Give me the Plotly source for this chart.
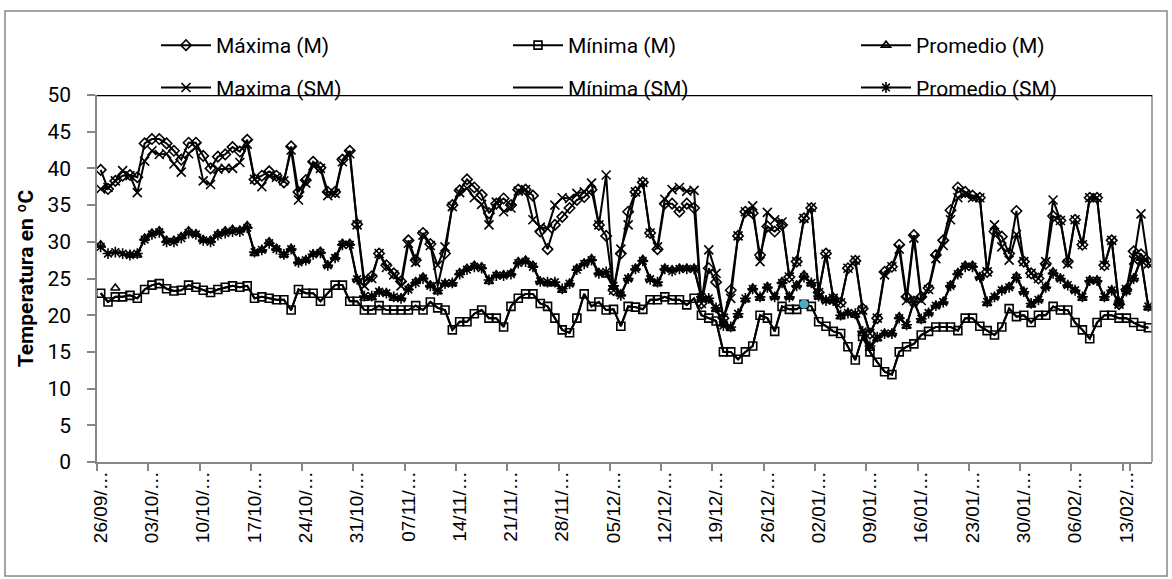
import pandas as pd
import plotly.graph_objects as go

# Daily series, 26/09 -> 16/02
dates = pd.date_range("2013-09-26", periods=144, freq="D")
categories = [d.strftime("%d/%m/%Y") for d in dates]
tick_every = 7
tick_labels = [d.strftime("%d/%m/") + "\u2026" for d in dates[::tick_every]]

max_m = [39.8, 37.2, 38.3, 39.0, 39.1, 38.8, 43.4, 44.0, 44.0, 43.4, 42.4, 41.2, 43.5, 43.5,
         41.7, 40.0, 41.6, 41.9, 42.9, 42.3, 43.9, 38.5, 39.0, 39.6, 39.0, 38.1, 43.0, 36.8,
         38.4, 40.9, 40.1, 36.8, 36.8, 41.2, 42.4, 32.4, 24.6, 25.3, 28.4, 26.8, 25.7, 24.6,
         30.2, 27.5, 31.2, 29.7, 24.0, 28.4, 35.0, 37.0, 38.5, 37.4, 36.4, 33.9, 35.2, 35.9,
         35.0, 37.1, 37.1, 36.3, 31.4, 29.0, 32.3, 33.4, 34.6, 35.7, 36.1, 37.1, 32.3, 30.8,
         23.4, 28.4, 34.1, 36.8, 38.1, 31.2, 29.0, 35.2, 35.2, 34.1, 35.2, 34.6, 21.6, 26.4,
         24.5, 19.6, 23.4, 30.8, 34.1, 33.9, 28.2, 32.1, 31.4, 32.3, 25.2, 27.3, 33.2, 34.6,
         23.1, 28.4, 22.3, 21.7, 26.4, 27.4, 20.9, 17.5, 19.6, 25.9, 26.6, 29.6, 22.5, 30.9,
         22.5, 23.7, 28.2, 30.2, 34.3, 37.4, 36.8, 36.3, 36.0, 25.9, 31.4, 30.7, 28.4, 34.2,
         27.3, 25.7, 25.0, 27.0, 33.5, 32.9, 27.3, 33.0, 29.6, 36.0, 36.0, 26.8, 30.2, 21.5,
         23.5, 28.7, 28.3, 27.2]

min_m = [23.0, 21.8, 22.5, 22.5, 22.7, 22.3, 23.5, 24.1, 24.3, 23.6, 23.3, 23.4, 24.1, 23.8,
         23.4, 23.1, 23.5, 23.8, 24.0, 23.8, 24.0, 22.3, 22.5, 22.3, 22.1, 22.1, 20.7, 23.5,
         23.0, 23.0, 21.9, 23.0, 24.1, 24.1, 21.9, 21.9, 20.7, 20.7, 21.3, 20.7, 20.7, 20.7,
         20.7, 21.3, 20.7, 21.8, 21.0, 20.7, 18.0, 19.1, 19.1, 20.2, 20.7, 19.6, 19.6, 18.4,
         21.2, 22.3, 22.9, 22.9, 21.6, 21.2, 19.6, 18.0, 17.6, 19.6, 22.9, 21.2, 21.8, 20.7,
         20.8, 18.5, 21.2, 21.1, 20.8, 22.1, 22.1, 22.5, 22.1, 22.1, 21.4, 22.3, 20.0, 19.6,
         19.2, 15.0, 15.0, 14.0, 15.0, 15.8, 20.0, 19.6, 17.8, 21.2, 20.8, 20.8, 21.5, 21.2,
         19.1, 18.5, 17.8, 17.5, 15.7, 13.9, 17.1, 15.0, 13.6, 12.3, 11.9, 15.0, 15.7, 16.1,
         17.3, 17.8, 18.4, 18.4, 18.4, 17.9, 19.6, 19.6, 18.5, 17.9, 17.3, 18.4, 20.9, 19.8,
         20.0, 19.0, 20.0, 20.0, 21.2, 20.7, 20.7, 19.0, 18.0, 16.8, 19.0, 20.0, 20.0, 19.6,
         19.6, 19.0, 18.5, 18.3]

# None = day without a reading (left as a gap in the line)
prom_m = [29.6, None, 23.7, None, 28.2, 28.2, 30.5, 31.2, 31.5, 30.2, 30.2, 30.7, 31.5, 31.1,
          30.3, 30.2, 31.1, 31.5, 31.7, 31.6, 32.2, 28.4, 28.9, 30.0, 29.1, 28.2, 29.1, 27.3,
          27.5, 28.3, 28.7, 26.8, 27.9, 29.8, 29.8, 24.9, 22.3, 22.4, 23.2, 23.0, 22.3, 22.3,
          23.7, 24.6, 25.2, 24.1, 23.2, 24.3, 24.3, 25.8, 26.4, 26.8, 26.6, 24.6, 25.5, 25.5,
          25.7, 27.3, 27.5, 26.8, 24.6, 24.3, 24.3, 23.4, 24.3, 26.4, 27.1, 27.7, 25.8, 25.5,
          23.8, 22.9, 25.0, 26.4, 27.6, 24.9, 24.3, 26.4, 26.2, 26.4, 26.4, 26.4, 22.3, 22.1,
          20.8, 18.8, 18.2, 20.0, 22.1, 23.7, 22.3, 23.9, 22.5, 24.6, 22.5, 24.1, 25.5, 24.3,
          22.5, 22.0, 22.0, 19.8, 20.3, 20.0, 17.5, 15.5, 16.8, 17.5, 17.5, 19.8, 18.5, 22.0,
          19.3, 20.3, 21.3, 21.8, 24.1, 25.8, 26.8, 26.8, 25.2, 21.6, 22.5, 23.4, 23.9, 25.3,
          23.2, 21.4, 22.1, 23.9, 25.9, 25.0, 24.1, 23.4, 22.3, 24.8, 24.8, 22.3, 23.4, 21.6,
          23.5, 25.0, 27.8, 21.0]

max_sm = [37.2, 37.4, 38.3, 39.7, 39.0, 36.7, 41.0, 42.4, 41.9, 42.0, 40.6, 39.5, 42.0, 42.9,
          38.3, 37.8, 39.9, 40.0, 40.0, 40.8, 43.3, 38.5, 37.5, 39.0, 38.8, 38.3, 42.5, 35.7,
          38.0, 40.4, 40.0, 36.3, 36.6, 40.9, 42.0, 32.3, 24.0, 25.0, 28.4, 26.5, 25.5, 24.0,
          29.8, 27.2, 30.9, 29.5, 26.8, 29.3, 34.8, 36.7, 37.3, 36.0, 35.1, 32.3, 35.4, 34.1,
          34.6, 36.9, 37.1, 33.0, 32.0, 31.8, 35.0, 36.0, 35.9, 36.6, 36.8, 38.0, 32.3, 39.1,
          23.4, 29.0, 32.3, 36.8, 38.1, 31.2, 29.3, 35.8, 37.1, 37.4, 36.9, 37.0, 21.6, 28.9,
          25.7, 19.6, 22.3, 30.8, 34.1, 34.9, 27.3, 34.0, 33.0, 32.7, 25.2, 27.3, 33.2, 34.7,
          23.1, 28.3, 22.3, 21.7, 26.4, 27.5, 20.7, 17.5, 19.6, 25.5, 26.6, 29.0, 22.0, 30.5,
          22.0, 23.5, 27.7, 29.5, 33.0, 36.0, 36.5, 36.0, 36.0, 25.9, 32.3, 29.3, 27.5, 31.0,
          27.3, 25.7, 25.0, 27.3, 35.7, 32.9, 27.0, 33.0, 29.6, 36.0, 36.0, 26.8, 30.2, 21.5,
          23.5, 27.5, 33.8, 27.0]

min_sm = list(min_m)

prom_sm = [29.3, 28.4, 28.6, 28.4, 28.2, 28.4, 30.3, 31.0, 31.3, 30.0, 30.0, 30.5, 31.2, 31.0,
           30.2, 30.0, 30.9, 31.2, 31.4, 31.4, 31.9, 28.6, 28.9, 29.8, 29.0, 28.3, 29.0, 27.2,
           27.5, 28.3, 28.5, 26.8, 27.8, 29.6, 29.6, 24.9, 22.6, 22.6, 23.2, 23.0, 22.5, 22.3,
           23.5, 24.4, 25.0, 24.0, 23.4, 24.3, 24.4, 25.6, 26.2, 26.6, 26.4, 24.8, 25.4, 25.4,
           25.6, 27.1, 27.3, 26.6, 24.6, 24.5, 24.5, 23.6, 24.3, 26.2, 27.0, 27.5, 25.7, 25.9,
           24.0, 22.7, 25.0, 26.3, 27.4, 24.9, 24.5, 26.3, 26.0, 26.3, 26.3, 26.3, 22.5, 22.3,
           21.0, 18.6, 18.4, 20.2, 22.3, 23.6, 22.5, 23.8, 22.5, 24.4, 22.5, 24.0, 25.2, 24.4,
           22.6, 22.0, 22.0, 20.0, 20.3, 20.2, 17.8, 15.8, 17.0, 17.5, 17.5, 19.6, 18.7, 21.8,
           19.5, 20.3, 21.3, 21.8, 24.0, 25.6, 26.6, 26.6, 25.2, 21.8, 22.5, 23.4, 23.8, 25.1,
           23.2, 21.6, 22.1, 23.8, 25.7, 25.0, 24.1, 23.4, 22.5, 24.7, 24.7, 22.5, 23.4, 21.8,
           23.3, 25.0, 27.5, 21.2]

selected_idx = 96  # highlighted point on the Mínima (SM) line

FONT_TEXT = "Liberation Sans Narrow, Roboto, Liberation Sans, sans-serif"
FONT_TICK = "Liberation Sans, Arial, sans-serif"
BLACK = "#000000"
GREY = "#868686"

# (name, values, marker symbol, marker size, legend column)
series = [
    ("Máxima (M)", max_m, "diamond-open", 8, "legend"),
    ("Mínima (M)", min_m, "square-open", 8, "legend2"),
    ("Promedio (M)", prom_m, "triangle-up-open", 8, "legend3"),
    ("Maxima (SM)", max_sm, "x-thin-open", 9, "legend"),
    ("Mínima (SM)", min_sm, None, 0, "legend2"),
    ("Promedio (SM)", prom_sm, "asterisk-open", 9, "legend3"),
]

fig = go.Figure()
for k, (name, vals, symbol, size, leg) in enumerate(series):
    kw = dict(x=categories, y=vals, name=name, legend=leg, legendgroup=f"g{k}",
              line=dict(color=BLACK, width=2), connectgaps=False)
    if symbol:
        kw["mode"] = "lines+markers"
        kw["marker"] = dict(symbol=symbol, size=size, color=BLACK,
                            line=dict(color=BLACK, width=1.6))
    else:
        kw["mode"] = "lines"
    fig.add_trace(go.Scatter(**kw))

fig.add_trace(go.Scatter(
    x=[categories[selected_idx]], y=[min_sm[selected_idx]], mode="markers",
    marker=dict(symbol="circle", size=9, color="#4BACC6"),
    showlegend=False, hoverinfo="skip"))

W, H = 1172, 579
L, R, T, B = 97, 20, 95, 117
pw, ph = W - L - R, H - T - B


def px_x(x):
    return (x - L) / pw


def px_y(y):
    return (H - B - y) / ph


legend_common = dict(orientation="v", xanchor="left", yanchor="top",
                     itemwidth=50, tracegroupgap=12,
                     font=dict(family=FONT_TEXT, size=21, color=BLACK),
                     bgcolor="rgba(0,0,0,0)", traceorder="grouped")

fig.update_layout(
    width=W, height=H,
    margin=dict(l=L, r=R, t=T, b=B),
    paper_bgcolor="white", plot_bgcolor="white",
    legend=dict(x=px_x(156), y=px_y(25), **legend_common),
    legend2=dict(x=px_x(508), y=px_y(25), **legend_common),
    legend3=dict(x=px_x(856), y=px_y(25), **legend_common),
    showlegend=True,
    xaxis=dict(
        type="category", categoryorder="array", categoryarray=categories,
        range=[-0.5, len(categories) - 0.5],
        tickmode="array", tickvals=categories[::tick_every], ticktext=tick_labels,
        tickangle=-90, tickson="boundaries",
        ticks="outside", ticklen=7, tickcolor=GREY, tickwidth=1.5,
        tickfont=dict(family=FONT_TICK, size=19, color=BLACK),
        showline=True, linecolor=GREY, linewidth=1.5, mirror=False,
        showgrid=False, zeroline=False,
    ),
    yaxis=dict(
        range=[0, 50], tickmode="linear", tick0=0, dtick=5,
        ticks="outside", ticklen=8, tickcolor=GREY, tickwidth=1.5,
        ticklabelstandoff=12,
        tickfont=dict(family=FONT_TEXT, size=21, color=BLACK),
        showline=True, linecolor=GREY, linewidth=1.5,
        showgrid=False, zeroline=False,
        title=dict(text="<b>Temperatura en ºC</b>", standoff=8,
                   font=dict(family=FONT_TEXT, size=21, color=BLACK)),
    ),
    shapes=[
        # chart area frame
        dict(type="rect", xref="paper", yref="paper",
             x0=px_x(5), x1=px_x(1167), y0=px_y(576), y1=px_y(11),
             line=dict(color=GREY, width=1.5), layer="below"),
        # plot area right edge
        dict(type="line", xref="paper", yref="paper", x0=1, x1=1, y0=0, y1=1,
             line=dict(color=GREY, width=1.5)),
        # top edge of the plot area
        dict(type="line", xref="paper", yref="y", x0=0, x1=1, y0=50, y1=50,
             line=dict(color=BLACK, width=2.5)),
    ],
)

fig.write_html("out.html")
